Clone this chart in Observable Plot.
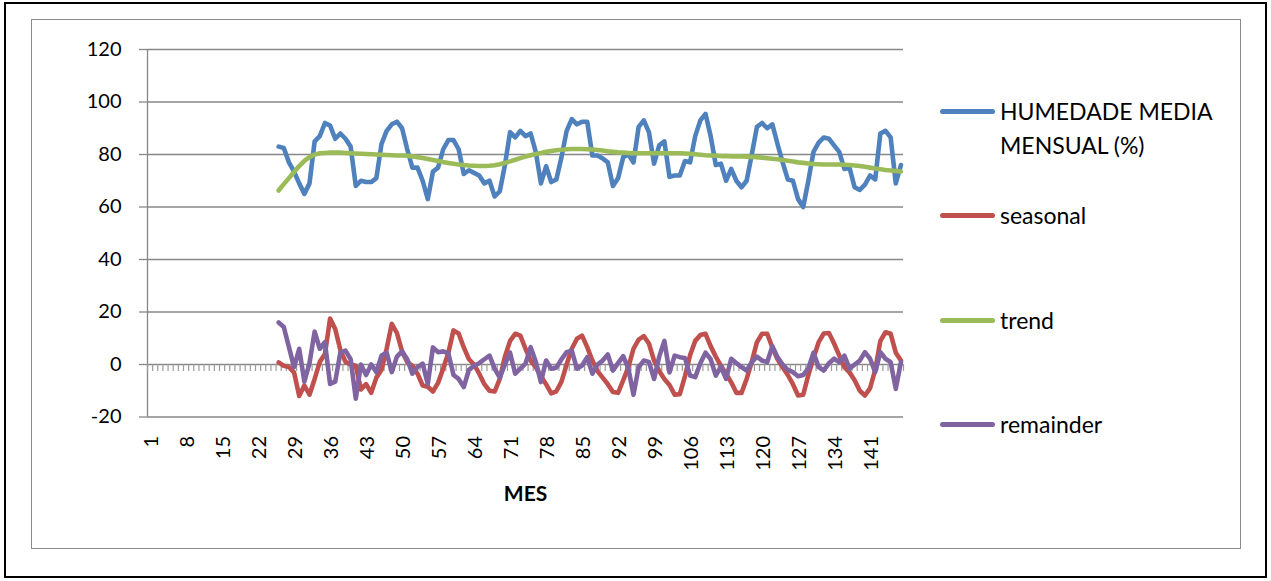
<!DOCTYPE html>
<html>
<head>
<meta charset="utf-8">
<script src="https://cdn.jsdelivr.net/npm/d3@7"></script>
<script src="https://cdn.jsdelivr.net/npm/@observablehq/plot@0.6"></script>
<style>
  html, body { margin: 0; padding: 0; background: #fff; }
  #chart { position: relative; width: 1271px; height: 581px; font-family: Lato, "Open Sans", sans-serif; color: #000; }
  #outer { position: absolute; left: 4px; top: 2px; width: 1263px; height: 576px; border: 2px solid #000; box-sizing: border-box; }
  #inner { position: absolute; left: 31px; top: 19px; width: 1210px; height: 530px; border: 1.3px solid #8a8a8a; box-sizing: border-box; }
  #plot { position: absolute; left: 0; top: 0; }
  .sw { position: absolute; left: 940px; width: 55px; height: 5px; border-radius: 2.5px; }
  .lg { position: absolute; left: 1000px; font-size: 23px; line-height: 34px; white-space: nowrap; }
</style>
</head>
<body>
<div id="chart">
  <div id="outer"></div>
  <div id="inner"></div>
  <div id="plot"></div>
  <div id="legend"></div>
</div>
<script>
// Month index of the first observation (earlier months on the axis are empty)
const primeiroMes = 26;
const totalMeses = 147;

// Monthly mean relative humidity (%) and its decomposition
const humedade = [
  83, 82.5, 77, 73.5, 69, 65, 69, 85, 87, 92,
  91, 86, 88, 86, 83, 68, 70, 69.5, 69.5, 71,
  84, 89, 91.5, 92.5, 90, 82, 75, 75, 70, 63,
  73.5, 75, 82, 85.5, 85.5, 82, 72.6, 74, 73, 72,
  69, 70, 64, 66, 76, 88.5, 86.5, 89, 87, 88,
  81, 69, 75.5, 69.5, 70.5, 79, 89, 93.5, 91.5, 92.5,
  92.5, 79.6, 79.6, 78.5, 77, 68, 71, 79, 80, 77,
  90.5, 93, 88.5, 76.5, 83.5, 85, 71.5, 72, 72, 77.5,
  77, 87, 93, 95.5, 87, 76, 76.5, 70, 74.5, 70,
  67.5, 70, 80, 90.5, 92, 90, 91.5, 84, 77, 70.5,
  70, 63, 60, 70, 81, 84.5, 86.5, 86, 83.5, 81,
  74.5, 75, 67.5, 66.5, 68.5, 72, 70.5, 88, 89, 86.5,
  69, 76
];

const seasonal = [
  0.8, -0.5, -1, -3, -12, -8, -11.5, -5.5, 1, 4,
  17.5, 13.5, 5.5, 1, 0, -0.5, -9.5, -7.5, -10.8, -5,
  -2, 6, 15.5, 12, 5, 1, -0.5, -3.5, -8, -8.5,
  -10.3, -7, -1.5, 4.5, 13, 11.8, 6.5, 2, 0, -3.5,
  -7.5, -10, -10.3, -5.5, 3, 9, 11.7, 11, 6, 1.5,
  -1, -4.5, -7.5, -11, -10.2, -6.5, 0, 6, 9.8, 11,
  6.6, 1.5, -2.5, -5, -7.5, -10.5, -10.8, -6, -1, 6,
  9.5, 10.8, 8, 1.5, -2.5, -5.5, -7.8, -11.5, -11.3, -4.5,
  3.5, 9, 11.2, 11.7, 7, 3, -0.5, -3.5, -6.8, -10.8,
  -10.8, -5.5, 1, 8.5, 11.7, 11.7, 6.5, 2, -1, -4,
  -7.5, -11.8, -11.5, -4, 2.5, 8.5, 11.8, 12, 8, 3.5,
  -1, -3, -6, -10, -11.8, -9, -2, 9, 12.3, 11.7,
  4.5, 1.5
];

const trend = [
  66.3, 68.7, 71.0, 73.3, 75.6, 77.6, 79.0, 80.0, 80.5, 80.6,
  80.7, 80.7, 80.7, 80.6, 80.5, 80.4, 80.3, 80.2, 80.1, 80.0,
  79.9, 79.8, 79.7, 79.6, 79.6, 79.5, 79.3, 79.0, 78.7, 78.3,
  77.9, 77.5, 77.1, 76.8, 76.5, 76.2, 76.0, 75.8, 75.7, 75.6,
  75.6, 75.7, 75.9, 76.3, 76.8, 77.4, 78.0, 78.6, 79.2, 79.7,
  80.2, 80.6, 81.0, 81.3, 81.6, 81.8, 82.0, 82.1, 82.1, 82.1,
  82.0, 81.9, 81.7, 81.5, 81.2, 81.0, 80.8, 80.7, 80.6, 80.5,
  80.5, 80.5, 80.5, 80.5, 80.5, 80.5, 80.5, 80.5, 80.5, 80.4,
  80.3, 80.1, 79.9, 79.7, 79.6, 79.5, 79.4, 79.4, 79.3, 79.3,
  79.3, 79.2, 79.1, 79.0, 78.8, 78.6, 78.4, 78.2, 77.9, 77.6,
  77.3, 77.0, 76.8, 76.6, 76.4, 76.3, 76.2, 76.2, 76.2, 76.2,
  76.1, 76.0, 75.8, 75.6, 75.3, 75.0, 74.7, 74.4, 74.1, 73.9,
  73.7, 73.5
];

const remainder = [
  16, 14.3, 6.6, -1, 6, -6.5, 0.5, 12.5, 6, 8.5,
  -7.4, -6.5, 4.5, 5.3, 2, -13, 0, -4, 0, -2.9,
  3.4, 4.5, -2.9, 3, 5, 2, -3.5, -1, 0.3, -7.4,
  6.5, 4.7, 5, 4.3, -4, -5.5, -8.6, -2, -0.5, 0.5,
  2, 3.4, -1.6, -5, 0, 4.5, -3.5, -1.6, 0.3, 6.6,
  1, -6.7, 1.5, -1.6, -1.2, 2, 4.7, 5.3, -1.6, -0.4,
  2.8, -3.5, 0, 1.5, 3.8, -2.3, 0.5, 3.2, -1.5, -11.5,
  -1, 1.5, 1, -5.5, 3, 9, -3, 3.4, 2.8, 2.5,
  -4.2, -4.8, 0.5, 4.5, 2, -4.2, -0.8, -5.5, 2.2, 0.5,
  -1, -2.3, 0.9, 3, 1.5, 0.9, 7, 2.8, 0, -2,
  -2.9, -4.5, -4, -1.5, 4.5, -1, -2.3, 0.5, 2.2, 0.9,
  3.4, -1.6, 0, 1.5, 4.7, 2.2, -2.9, 4.7, 2.2, 0.9,
  -9.3, 0.9
];

// Axis tick values
const yTicks = [-20, 0, 20, 40, 60, 80, 100, 120];
const xTickLabels = [1, 8, 15, 22, 29, 36, 43, 50, 57, 64, 71, 78, 85, 92, 99, 106, 113, 120, 127, 134, 141];

// Series names and colours
const series = [
  {key: "humedade", label: ["HUMEDADE MEDIA", "MENSUAL (%)"], color: "#4F81BD"},
  {key: "seasonal", label: ["seasonal"], color: "#C0504D"},
  {key: "trend", label: ["trend"], color: "#9BBB59"},
  {key: "remainder", label: ["remainder"], color: "#8064A2"}
];

const rows = humedade.map((h, i) => ({
  mes: primeiroMes + i,
  humedade: h,
  seasonal: seasonal[i],
  trend: trend[i],
  remainder: remainder[i]
}));

// Category boundaries for the minor ticks along the zero line
const limites = d3.range(0, totalMeses + 1).map(d => d + 0.5);

const gridColor = "#878787";

const plot = Plot.plot({
  width: 1271,
  height: 581,
  marginLeft: 147,
  marginRight: 368,
  marginTop: 49,
  marginBottom: 164.5,
  style: {background: "transparent", fontFamily: "Lato, 'Open Sans', sans-serif", color: "#000", overflow: "visible"},
  x: {domain: [0.5, totalMeses + 0.5], axis: null},
  y: {domain: [-20, 120]},
  marks: [
    Plot.ruleY(yTicks, {stroke: gridColor, strokeWidth: 1.3}),
    Plot.ruleX([0.5], {stroke: gridColor, strokeWidth: 1.3}),
    Plot.axisY({
      ticks: yTicks, tickFormat: d => String(d), tickSize: 8, tickPadding: 18,
      stroke: gridColor, strokeWidth: 1.3, strokeOpacity: 1, fontSize: 20, label: null, fill: "#000"
    }),
    Plot.ruleX(limites, {x: d => d, y1: 0, y2: 0, insetBottom: -7, stroke: "#9b9b9b", strokeWidth: 1.2}),
    ...series.map(s => Plot.line(rows, {
      x: "mes", y: s.key, stroke: s.color, strokeWidth: 4.6,
      strokeLinejoin: "round", strokeLinecap: "round"
    })),
    Plot.text(xTickLabels, {
      x: d => d, text: d => String(d), frameAnchor: "bottom", dy: 19, dx: 1.5,
      rotate: -90, textAnchor: "end", lineAnchor: "middle", fontSize: 20, fill: "#000"
    }),
    Plot.text(["MES"], {frameAnchor: "bottom", dy: 84, fontSize: 21, fontWeight: "bold", fill: "#000"})
  ]
});
document.getElementById("plot").appendChild(plot);

// Legend on the right of the plot
const legend = document.getElementById("legend");
const legendY = [111, 215, 320, 424];
series.forEach((s, i) => {
  const sw = document.createElement("div");
  sw.className = "sw";
  sw.style.background = s.color;
  sw.style.top = (legendY[i] - 2.5) + "px";
  legend.appendChild(sw);
  s.label.forEach((line, j) => {
    const t = document.createElement("div");
    t.className = "lg";
    t.textContent = line;
    t.style.top = (legendY[i] - 17 + j * 34) + "px";
    legend.appendChild(t);
  });
});
</script>
</body>
</html>
